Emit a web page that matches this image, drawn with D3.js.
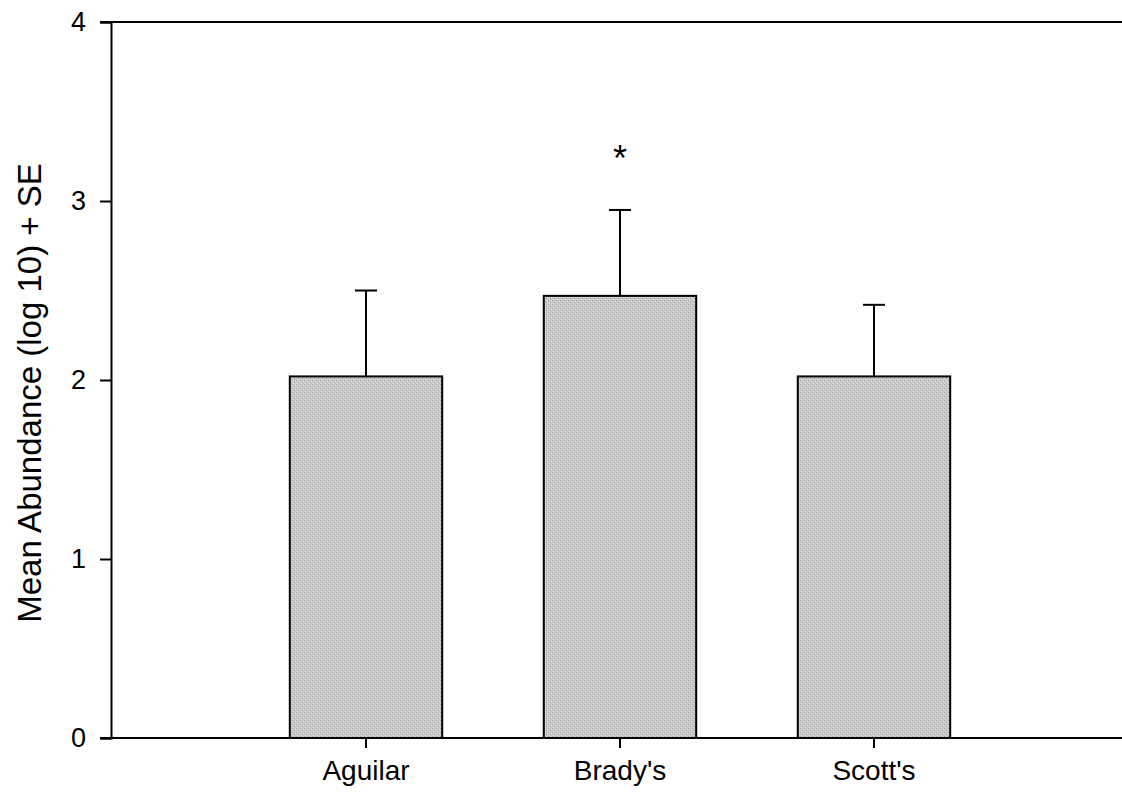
<!DOCTYPE html>
<html>
<head>
<meta charset="utf-8">
<script src="https://cdn.jsdelivr.net/npm/d3@7"></script>
<style>
  html, body { margin: 0; padding: 0; background: #fff; }
  svg { display: block; font-family: "Liberation Sans", Arial, sans-serif; }
</style>
</head>
<body>
<div id="chart"></div>
<script>
const sites = ["Aguilar", "Brady's", "Scott's"];
const meanAbundance = [2.02, 2.47, 2.02];
const seUpper = [2.50, 2.95, 2.42];
const sigMarks = ["", "*", ""];
const sigLevel = [null, 3.28, null];
const yTicks = [0, 1, 2, 3, 4];

const width = 1122, height = 799;
const plot = { left: 111, right: 1122, top: 22, bottom: 738 };

const svg = d3.select("#chart").append("svg")
  .attr("width", width)
  .attr("height", height);

// stippled grey fill like the scanned original
const pat = svg.append("defs").append("pattern")
  .attr("id", "stipple")
  .attr("width", 4).attr("height", 4)
  .attr("patternUnits", "userSpaceOnUse");
pat.append("rect").attr("width", 4).attr("height", 4).attr("fill", "#cacaca");
pat.append("rect").attr("x", 0).attr("y", 0).attr("width", 1).attr("height", 1).attr("fill", "#9e9e9e");
pat.append("rect").attr("x", 2).attr("y", 2).attr("width", 1).attr("height", 1).attr("fill", "#9e9e9e");
pat.append("rect").attr("x", 3).attr("y", 1).attr("width", 1).attr("height", 1).attr("fill", "#e2e2e2");
pat.append("rect").attr("x", 1).attr("y", 3).attr("width", 1).attr("height", 1).attr("fill", "#e2e2e2");

const y = d3.scaleLinear()
  .domain([0, 4])
  .range([plot.bottom, plot.top]);

const x = d3.scaleBand()
  .domain(sites)
  .range([239, 1001])
  .paddingInner(0.4)
  .paddingOuter(0.2);

const data = sites.map((s, i) => ({
  site: s, mean: meanAbundance[i], se: seUpper[i], mark: sigMarks[i], sig: sigLevel[i]
}));

// bars
svg.selectAll("rect.bar")
  .data(data)
  .enter().append("rect")
  .attr("class", "bar")
  .attr("x", d => x(d.site))
  .attr("y", d => y(d.mean))
  .attr("width", x.bandwidth())
  .attr("height", d => y(0) - y(d.mean))
  .attr("fill", "url(#stipple)")
  .attr("stroke", "#000")
  .attr("stroke-width", 2);

// error bars
const err = svg.selectAll("g.err")
  .data(data)
  .enter().append("g")
  .attr("class", "err");

err.append("line")
  .attr("x1", d => x(d.site) + x.bandwidth() / 2)
  .attr("x2", d => x(d.site) + x.bandwidth() / 2)
  .attr("y1", d => y(d.mean))
  .attr("y2", d => y(d.se))
  .attr("stroke", "#000")
  .attr("stroke-width", 2);

err.append("line")
  .attr("x1", d => x(d.site) + x.bandwidth() / 2 - 11)
  .attr("x2", d => x(d.site) + x.bandwidth() / 2 + 11)
  .attr("y1", d => y(d.se))
  .attr("y2", d => y(d.se))
  .attr("stroke", "#000")
  .attr("stroke-width", 2);

// significance marks
svg.selectAll("text.sig")
  .data(data.filter(d => d.mark))
  .enter().append("text")
  .attr("class", "sig")
  .attr("x", d => x(d.site) + x.bandwidth() / 2)
  .attr("y", d => y(d.sig))
  .attr("dy", "0.55em")
  .attr("text-anchor", "middle")
  .style("font-size", "36px")
  .text(d => d.mark);

// y axis
const yAxis = svg.append("g")
  .attr("transform", `translate(${plot.left},0)`)
  .call(d3.axisLeft(y).tickValues(yTicks).tickFormat(d3.format("d")).tickSize(11).tickPadding(14));
yAxis.attr("font-family", null).attr("font-size", null);
yAxis.select(".domain").attr("stroke-width", 2);
yAxis.selectAll(".tick line").attr("stroke-width", 2);
yAxis.selectAll(".tick text")
  .style("font-size", "27px")
  .attr("fill", "#000");

// x axis
const xAxis = svg.append("g")
  .attr("transform", `translate(0,${plot.bottom})`)
  .call(d3.axisBottom(x).tickSize(10).tickPadding(12));
xAxis.attr("font-family", null).attr("font-size", null);
xAxis.select(".domain").remove();
xAxis.selectAll(".tick line").attr("stroke-width", 2);
xAxis.selectAll(".tick text")
  .style("font-size", "28px")
  .attr("fill", "#000");

// frame lines (top and bottom run to the right edge)
svg.append("line")
  .attr("x1", 100).attr("x2", plot.right)
  .attr("y1", plot.top).attr("y2", plot.top)
  .attr("stroke", "#000").attr("stroke-width", 2);
svg.append("line")
  .attr("x1", 100).attr("x2", plot.right)
  .attr("y1", plot.bottom).attr("y2", plot.bottom)
  .attr("stroke", "#000").attr("stroke-width", 2);

// y label
svg.append("text")
  .attr("transform", "rotate(-90)")
  .attr("x", -393)
  .attr("y", 41)
  .attr("text-anchor", "middle")
  .style("font-size", "33px")
  .text("Mean Abundance (log 10) + SE");
</script>
</body>
</html>
